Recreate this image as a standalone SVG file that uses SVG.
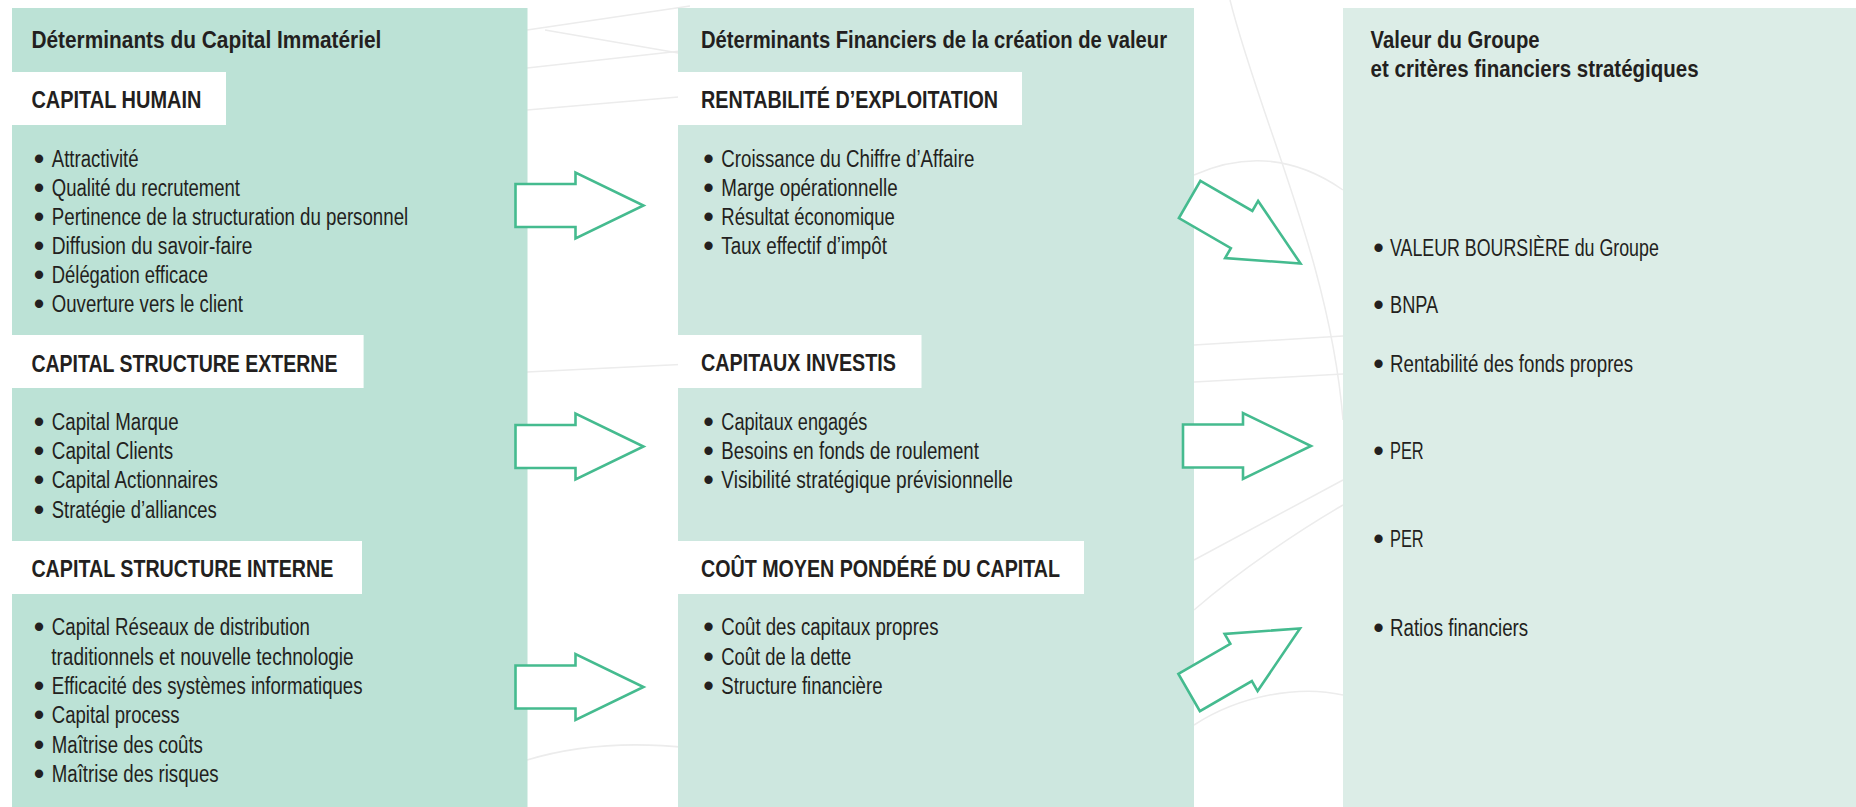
<svg xmlns="http://www.w3.org/2000/svg" xmlns:xlink="http://www.w3.org/1999/xlink" width="1856" height="807" viewBox="0 0 1856 807">
  <style>
    .panel-a { fill: #bce2d6; }
    .panel-b { fill: #cde7df; }
    .panel-c { fill: #dcede7; }
    .cut { fill: #ffffff; }
    .t { font-family: "Liberation Sans", Arial, sans-serif; font-size: 23px; fill: #231f20; }
    .title { font-weight: bold; }
    .h { font-weight: bold; font-size: 24.5px; }
    .dot { stroke: #231f20; stroke-width: 2; }
    .arrow { fill: #ffffff; stroke: #45bb8f; stroke-width: 2.6; stroke-linejoin: miter; stroke-miterlimit: 10; }
    .wm { fill: none; stroke: #ececec; stroke-width: 1.5; }
  </style>
  <defs>
    <!-- block arrow pointing right, tip at the origin -->
    <path id="block-arrow" d="M-128,-21.5 H-68 V-33 L0,0 L-68,33 V21.5 H-128 Z"/>
  </defs>

  <rect width="1856" height="807" fill="#ffffff"/>

  <!-- faint background sketch lines -->
  <g id="watermark" class="wm">
    <path d="M527,30 L690,6"/>
    <path d="M545,30 L690,55"/>
    <path d="M527,68 L690,50"/>
    <path d="M527,110 L690,96"/>
    <path d="M527,372 L690,364"/>
    <path d="M527,760 Q600,738 690,748"/>
    <path d="M1194,175 C1250,150 1300,160 1343,190"/>
    <path d="M1194,345 L1343,336"/>
    <path d="M1194,382 L1343,374"/>
    <path d="M1194,560 L1343,480"/>
    <path d="M1194,610 C1240,570 1300,530 1343,505"/>
    <path d="M1194,725 C1240,695 1300,685 1343,695"/>
    <path d="M1230,0 C1260,120 1330,260 1343,420"/>
  </g>

  <!-- column 1 -->
  <g id="col-immateriel">
    <rect class="panel-a" x="12" y="8" width="515.5" height="799"/>
    <text class="t title" x="31.4" y="48.3" textLength="350" lengthAdjust="spacingAndGlyphs">Déterminants du Capital Immatériel</text>
  </g>

  <g id="capital-humain">
    <rect class="cut" x="12" y="72" width="214" height="53"/>
    <text class="t h" x="31.4" y="107.7" textLength="170" lengthAdjust="spacingAndGlyphs">CAPITAL HUMAIN</text>
    <text class="t" x="35" y="166.7"><tspan class="dot">•</tspan> <tspan x="51.8" textLength="86.8" lengthAdjust="spacingAndGlyphs">Attractivité</tspan></text>
    <text class="t" x="35" y="195.7"><tspan class="dot">•</tspan> <tspan x="51.8" textLength="188.2" lengthAdjust="spacingAndGlyphs">Qualité du recrutement</tspan></text>
    <text class="t" x="35" y="225"><tspan class="dot">•</tspan> <tspan x="51.8" textLength="356.4" lengthAdjust="spacingAndGlyphs">Pertinence de la structuration du personnel</tspan></text>
    <text class="t" x="35" y="254"><tspan class="dot">•</tspan> <tspan x="51.8" textLength="200.7" lengthAdjust="spacingAndGlyphs">Diffusion du savoir-faire</tspan></text>
    <text class="t" x="35" y="283.3"><tspan class="dot">•</tspan> <tspan x="51.8" textLength="156.1" lengthAdjust="spacingAndGlyphs">Délégation efficace</tspan></text>
    <text class="t" x="35" y="312.3"><tspan class="dot">•</tspan> <tspan x="51.8" textLength="191.1" lengthAdjust="spacingAndGlyphs">Ouverture vers le client</tspan></text>
  </g>

  <g id="capital-externe">
    <rect class="cut" x="12" y="335" width="351.6" height="53"/>
    <text class="t h" x="31.4" y="371.7" textLength="306" lengthAdjust="spacingAndGlyphs">CAPITAL STRUCTURE EXTERNE</text>
    <text class="t" x="35" y="430"><tspan class="dot">•</tspan> <tspan x="51.8" textLength="126.8" lengthAdjust="spacingAndGlyphs">Capital Marque</tspan></text>
    <text class="t" x="35" y="459.3"><tspan class="dot">•</tspan> <tspan x="51.8" textLength="121.4" lengthAdjust="spacingAndGlyphs">Capital Clients</tspan></text>
    <text class="t" x="35" y="488.3"><tspan class="dot">•</tspan> <tspan x="51.8" textLength="166.1" lengthAdjust="spacingAndGlyphs">Capital Actionnaires</tspan></text>
    <text class="t" x="35" y="518.3"><tspan class="dot">•</tspan> <tspan x="51.8" textLength="165" lengthAdjust="spacingAndGlyphs">Stratégie d’alliances</tspan></text>
  </g>

  <g id="capital-interne">
    <rect class="cut" x="12" y="541" width="350" height="53"/>
    <text class="t h" x="31.4" y="577.3" textLength="302" lengthAdjust="spacingAndGlyphs">CAPITAL STRUCTURE INTERNE</text>
    <text class="t" x="35" y="635"><tspan class="dot">•</tspan> <tspan x="51.8" textLength="258.2" lengthAdjust="spacingAndGlyphs">Capital Réseaux de distribution</tspan></text>
    <text class="t" x="51.2" y="665" textLength="302.4" lengthAdjust="spacingAndGlyphs">traditionnels et nouvelle technologie</text>
    <text class="t" x="35" y="694.3"><tspan class="dot">•</tspan> <tspan x="51.8" textLength="310.7" lengthAdjust="spacingAndGlyphs">Efficacité des systèmes informatiques</tspan></text>
    <text class="t" x="35" y="723.3"><tspan class="dot">•</tspan> <tspan x="51.8" textLength="127.8" lengthAdjust="spacingAndGlyphs">Capital process</tspan></text>
    <text class="t" x="35" y="753.3"><tspan class="dot">•</tspan> <tspan x="51.8" textLength="151.1" lengthAdjust="spacingAndGlyphs">Maîtrise des coûts</tspan></text>
    <text class="t" x="35" y="782.3"><tspan class="dot">•</tspan> <tspan x="51.8" textLength="166.8" lengthAdjust="spacingAndGlyphs">Maîtrise des risques</tspan></text>
  </g>

  <!-- column 2 -->
  <g id="col-financiers">
    <rect class="panel-b" x="678" y="8" width="516" height="799"/>
    <text class="t title" x="701" y="48.3" textLength="466" lengthAdjust="spacingAndGlyphs">Déterminants Financiers de la création de valeur</text>
  </g>

  <g id="rentabilite">
    <rect class="cut" x="678" y="72" width="344" height="53"/>
    <text class="t h" x="701" y="107.7" textLength="297" lengthAdjust="spacingAndGlyphs">RENTABILITÉ D’EXPLOITATION</text>
    <text class="t" x="704.5" y="166.7"><tspan class="dot">•</tspan> <tspan x="721.3" textLength="253" lengthAdjust="spacingAndGlyphs">Croissance du Chiffre d’Affaire</tspan></text>
    <text class="t" x="704.5" y="195.7"><tspan class="dot">•</tspan> <tspan x="721.3" textLength="176.3" lengthAdjust="spacingAndGlyphs">Marge opérationnelle</tspan></text>
    <text class="t" x="704.5" y="225"><tspan class="dot">•</tspan> <tspan x="721.3" textLength="173.6" lengthAdjust="spacingAndGlyphs">Résultat économique</tspan></text>
    <text class="t" x="704.5" y="254"><tspan class="dot">•</tspan> <tspan x="721.3" textLength="165.7" lengthAdjust="spacingAndGlyphs">Taux effectif d’impôt</tspan></text>
  </g>

  <g id="capitaux-investis">
    <rect class="cut" x="678" y="335" width="243.5" height="53"/>
    <text class="t h" x="701" y="371.3" textLength="195" lengthAdjust="spacingAndGlyphs">CAPITAUX INVESTIS</text>
    <text class="t" x="704.5" y="430"><tspan class="dot">•</tspan> <tspan x="721.3" textLength="146" lengthAdjust="spacingAndGlyphs">Capitaux engagés</tspan></text>
    <text class="t" x="704.5" y="459.3"><tspan class="dot">•</tspan> <tspan x="721.3" textLength="257.6" lengthAdjust="spacingAndGlyphs">Besoins en fonds de roulement</tspan></text>
    <text class="t" x="704.5" y="488.3"><tspan class="dot">•</tspan> <tspan x="721.3" textLength="291.6" lengthAdjust="spacingAndGlyphs">Visibilité stratégique prévisionnelle</tspan></text>
  </g>

  <g id="cout-capital">
    <rect class="cut" x="678" y="541" width="406" height="53"/>
    <text class="t h" x="701" y="577.3" textLength="359" lengthAdjust="spacingAndGlyphs">COÛT MOYEN PONDÉRÉ DU CAPITAL</text>
    <text class="t" x="704.5" y="635"><tspan class="dot">•</tspan> <tspan x="721.3" textLength="217.2" lengthAdjust="spacingAndGlyphs">Coût des capitaux propres</tspan></text>
    <text class="t" x="704.5" y="665"><tspan class="dot">•</tspan> <tspan x="721.3" textLength="129.9" lengthAdjust="spacingAndGlyphs">Coût de la dette</tspan></text>
    <text class="t" x="704.5" y="694"><tspan class="dot">•</tspan> <tspan x="721.3" textLength="161.2" lengthAdjust="spacingAndGlyphs">Structure financière</tspan></text>
  </g>

  <!-- column 3 -->
  <g id="col-valeur">
    <rect class="panel-c" x="1343" y="8" width="513" height="799"/>
    <text class="t title" x="1370.6" y="48.3" textLength="169" lengthAdjust="spacingAndGlyphs">Valeur du Groupe</text>
    <text class="t title" x="1370.6" y="77.3" textLength="328" lengthAdjust="spacingAndGlyphs">et critères financiers stratégiques</text>
    <text class="t" x="1374.5" y="256"><tspan class="dot">•</tspan> <tspan x="1390" textLength="268.8" lengthAdjust="spacingAndGlyphs">VALEUR BOURSIÈRE du Groupe</tspan></text>
    <text class="t" x="1374.5" y="313"><tspan class="dot">•</tspan> <tspan x="1390" textLength="48.2" lengthAdjust="spacingAndGlyphs">BNPA</tspan></text>
    <text class="t" x="1374.5" y="371.5"><tspan class="dot">•</tspan> <tspan x="1390" textLength="243.1" lengthAdjust="spacingAndGlyphs">Rentabilité des fonds propres</tspan></text>
    <text class="t" x="1374.5" y="458.5"><tspan class="dot">•</tspan> <tspan x="1390" textLength="33.7" lengthAdjust="spacingAndGlyphs">PER</tspan></text>
    <text class="t" x="1374.5" y="546.5"><tspan class="dot">•</tspan> <tspan x="1390" textLength="33.7" lengthAdjust="spacingAndGlyphs">PER</tspan></text>
    <text class="t" x="1374.5" y="636"><tspan class="dot">•</tspan> <tspan x="1390" textLength="138.2" lengthAdjust="spacingAndGlyphs">Ratios financiers</tspan></text>
  </g>

  <!-- block arrows between columns -->
  <g id="connectors" class="arrow">
    <use xlink:href="#block-arrow" transform="translate(643.5,205.5)"/>
    <use xlink:href="#block-arrow" transform="translate(643.5,446.5)"/>
    <use xlink:href="#block-arrow" transform="translate(643.5,687)"/>
    <use xlink:href="#block-arrow" transform="translate(1300.5,263.5) rotate(30)"/>
    <use xlink:href="#block-arrow" transform="translate(1311,446)"/>
    <use xlink:href="#block-arrow" transform="translate(1300,628.5) rotate(-30)"/>
  </g>
</svg>
